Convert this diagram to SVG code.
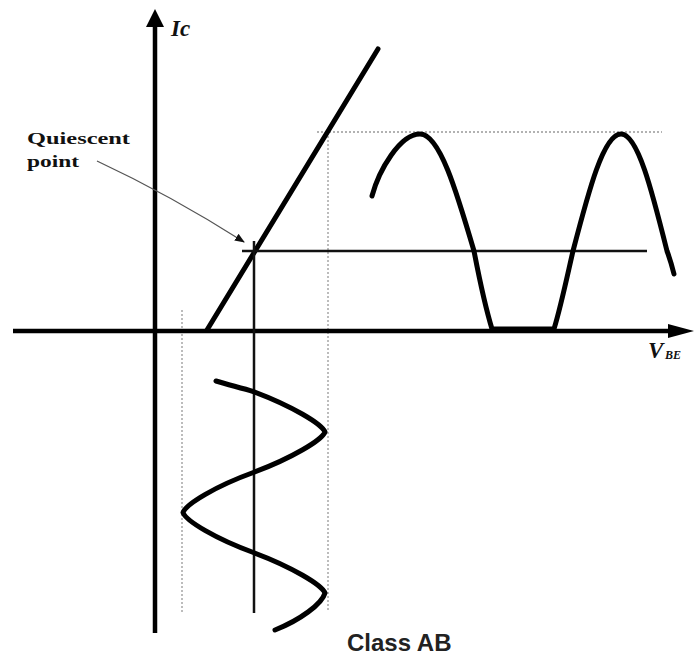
<svg xmlns="http://www.w3.org/2000/svg" width="698" height="657" viewBox="0 0 698 657">
<style>
.axis{stroke:#000;stroke-width:4.5;fill:none}
.thick{stroke:#000;stroke-width:5;fill:none;stroke-linecap:round;stroke-linejoin:round}
.thin{stroke:#111;stroke-width:2.5;fill:none}
.dot{stroke:#999;stroke-width:1.3;fill:none;stroke-dasharray:2 2}
.serif{font-family:"Liberation Serif","Times New Roman",serif;font-weight:bold;fill:#111}
</style>
<defs>
<marker id="ah" markerWidth="10" markerHeight="8" refX="9" refY="4" orient="auto" markerUnits="userSpaceOnUse">
<path d="M0,0 L10,4 L0,8 Z" fill="#111"/>
</marker>
</defs>
<rect width="698" height="657" fill="#fff"/>
<g id="guides">
<line class="dot" x1="182" y1="310" x2="182" y2="612"/>
<line class="dot" x1="328" y1="132" x2="328" y2="612"/>
<line class="dot" x1="317" y1="132" x2="662" y2="132"/>
</g>
<g id="axes">
<line class="axis" x1="155" y1="24" x2="155" y2="633"/>
<path d="M155,9 L164,27 L146,27 Z" fill="#000"/>
<line class="axis" x1="13" y1="331" x2="672" y2="331"/>
<path d="M694,331 L668,324 L668,338 Z" fill="#000"/>
<text class="serif" x="171" y="36" font-size="23" font-style="italic">Ic</text>
<text class="serif" x="648" y="358" font-size="23" font-style="italic">V</text>
<text class="serif" x="665" y="359" font-size="12" font-style="italic">BE</text>
</g>
<g id="transfer">
<line class="thick" x1="207" y1="330" x2="378" y2="49"/>
<line class="thin" x1="242" y1="251" x2="647" y2="251"/>
<line class="thin" x1="254" y1="241" x2="254" y2="613"/>
</g>
<g id="output-wave">
<path class="thick" d="M372,196 C379,170 400,134 420,134 C439.5,134 456.4,191 474,251 C479,277 485,306 492,329 L554,329 C561,306 567,277 573,251 C588.6,191 603.6,134 621,134 C637.7,134 652,191 667,251 C670,259 672,266 674,274"/>
</g>
<g id="input-wave">
<path class="thick" d="M216,381 C229,385 241,387.7 254,391.75 C292,406 322,424 325,432 C322,440 292,458 254,472.25 C216,486 186,504 183,512.5 C186,521 216,539 254,552.75 C292,567 322,585 325,593 C322,604 300,620 275,630"/>
</g>
<g id="quiescent-label">
<text class="serif" x="27" y="144" font-size="17" textLength="103" lengthAdjust="spacingAndGlyphs">Quiescent</text>
<text class="serif" x="27" y="167" font-size="17" textLength="52" lengthAdjust="spacingAndGlyphs">point</text>
<path d="M97,161 Q170,195 244,242" stroke="#555" stroke-width="1.3" fill="none" marker-end="url(#ah)"/>
</g>
<text x="347" y="651" font-family="Liberation Sans, Arial, sans-serif" font-weight="bold" font-size="24" fill="#222">Class AB</text>
</svg>
